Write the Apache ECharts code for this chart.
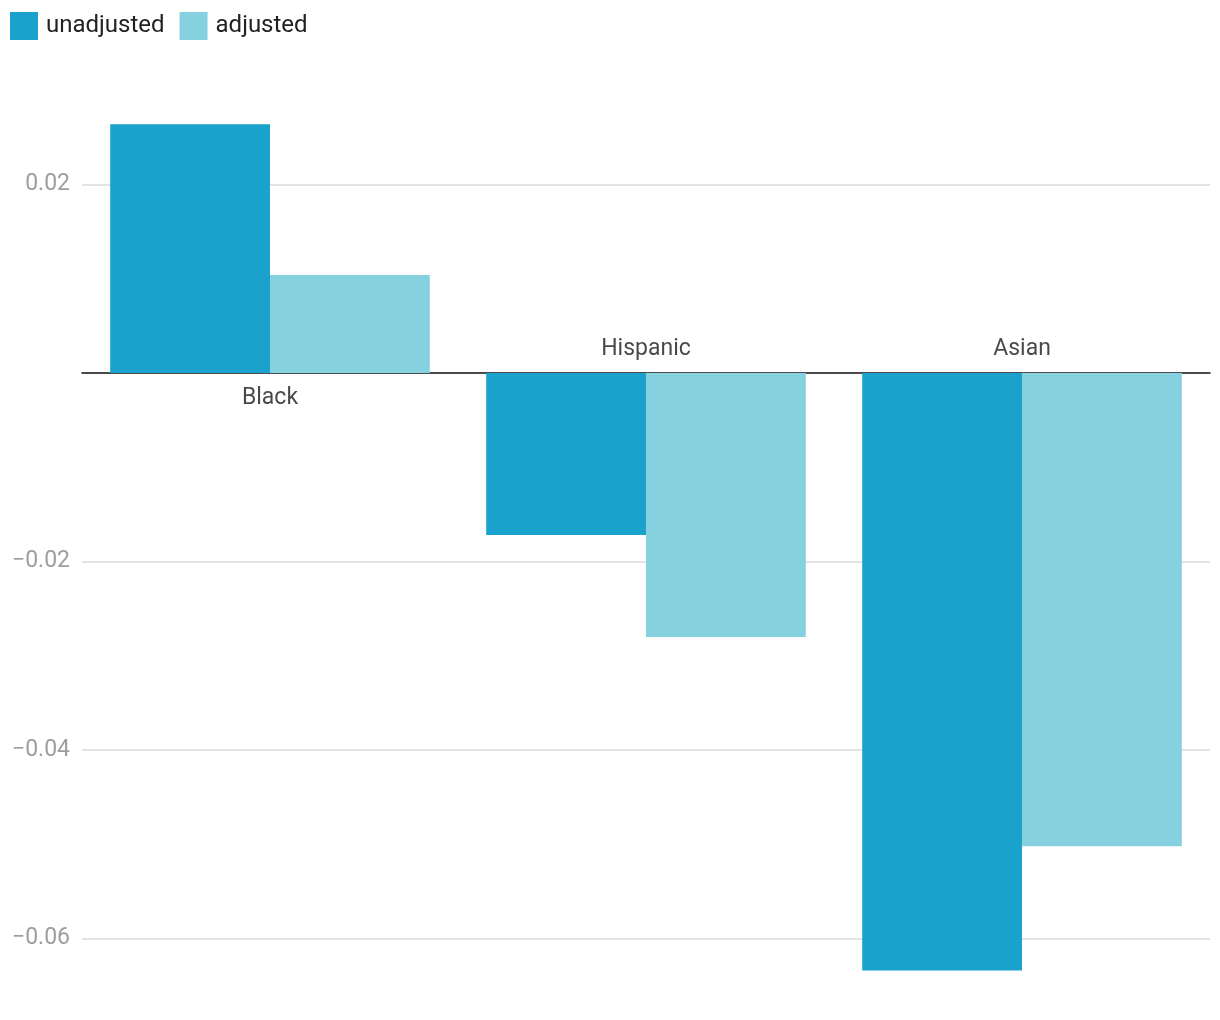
<!DOCTYPE html>
<html>
<head>
<meta charset="utf-8">
<script src="https://cdn.jsdelivr.net/npm/echarts@6/dist/echarts.min.js"></script>
<style>html,body{margin:0;padding:0;background:#fff;overflow:hidden;width:1220px;height:1020px;position:relative;}
#c{position:absolute;left:0;top:-4px;width:1220px;height:1131px;}</style>
</head>
<body>
<div id="c"></div>
<script>
var categories = ['Black', 'Hispanic', 'Asian'];
var unadjusted = [0.0264, -0.0172, -0.0634];
var adjusted = [0.0104, -0.0280, -0.0502];
var seriesNames = ['unadjusted', 'adjusted'];

var chart = echarts.init(document.getElementById('c'));
var labelData = categories.map(function (c, i) {
  var below = unadjusted[i] >= 0;
  return {
    value: 0,
    label: { position: below ? 'bottom' : 'top', distance: below ? 14 : 12 }
  };
});
chart.setOption({
  animation: false,
  textStyle: { fontFamily: 'Roboto' },
  legend: {
    data: seriesNames,
    left: 10, top: 16, padding: 0,
    itemWidth: 28, itemHeight: 28, itemGap: 15,
    icon: 'rect',
    textStyle: { fontSize: 24, color: '#222', fontFamily: 'Roboto', padding: [2, 0, 0, 3] }
  },
  grid: { left: 82, right: 10, top: 0, bottom: 0, containLabel: false },
  xAxis: {
    type: 'category',
    data: categories,
    axisLine: { onZero: true, lineStyle: { color: '#1a1a1a', width: 1.5 } },
    axisTick: { show: false },
    axisLabel: { show: false },
    splitLine: { show: false }
  },
  yAxis: {
    type: 'value',
    min: -0.08, max: 0.04, interval: 0.02,
    axisLine: { show: false },
    axisTick: { show: false },
    splitLine: { lineStyle: { color: '#e3e3e3', width: 2 } },
    axisLabel: {
      fontSize: 23, color: '#9e9e9e', margin: 12, fontFamily: 'Roboto',
      padding: [3, 0, 0, 0],
      showMinLabel: false, showMaxLabel: false,
      formatter: function (v) {
        if (Math.abs(v) < 1e-9) return '';
        var s = Math.abs(v).toFixed(2);
        return v < 0 ? '\u2212' + s : s;
      }
    }
  },
  series: [
    { name: 'unadjusted', type: 'bar', data: unadjusted, barGap: 0, barCategoryGap: '15%',
      itemStyle: { color: '#1aa1cc' } },
    { name: 'adjusted', type: 'bar', data: adjusted, barGap: 0, barCategoryGap: '15%',
      itemStyle: { color: '#85d1e0' } },
    { name: 'labels', type: 'scatter', data: labelData, symbolSize: 0, z: 10, silent: true,
      label: { show: true, fontSize: 23, color: '#1a1a1a', fontFamily: 'Roboto',
        formatter: function (p) { return categories[p.dataIndex]; } } }
  ]
});
</script>
</body>
</html>
